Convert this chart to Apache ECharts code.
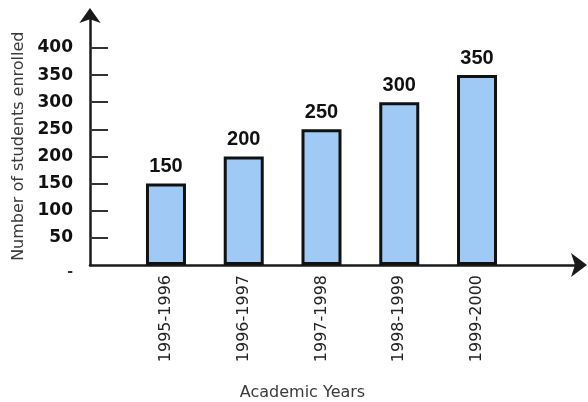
<!DOCTYPE html>
<html>
<head>
<meta charset="utf-8">
<script src="https://cdn.jsdelivr.net/npm/echarts@6/dist/echarts.min.js"></script>
<style>
  html, body { margin: 0; padding: 0; background: #ffffff; }
  #chart { width: 588px; height: 402px; }
</style>
</head>
<body>
<div id="chart"></div>
<script>
const categories = ['1995-1996', '1996-1997', '1997-1998', '1998-1999', '1999-2000'];
const enrolled = [150, 200, 250, 300, 350];
const yLabelValues = [0, 50, 100, 150, 200, 250, 300, 350, 400];
const yTickValues = [50, 100, 150, 200, 250, 300, 350, 400];
const xAxisTitle = 'Academic Years';
const yAxisTitle = 'Number of students enrolled';

const chart = echarts.init(document.getElementById('chart'), null, { renderer: 'canvas' });

const gridTop = 15.4, gridBottom = 137;
const yMax = 460;

chart.setOption({
  animation: false,
  backgroundColor: '#ffffff',
  grid: [
    { left: 90, right: 9, top: gridTop, bottom: gridBottom, containLabel: false, outerBoundsMode: 'none' },
    { left: 127.1, right: 72.1, top: gridTop, bottom: gridBottom, containLabel: false, outerBoundsMode: 'none' }
  ],
  xAxis: [
    {
      gridIndex: 0, type: 'value', min: 0, max: 1,
      axisLine: { show: true, onZero: false, symbol: ['none', 'arrow'], symbolSize: [18, 16],
        symbolOffset: [0, 8], lineStyle: { color: '#1a1a1a', width: 2.5 } },
      axisTick: { show: false }, axisLabel: { show: false }, splitLine: { show: false }
    },
    {
      gridIndex: 1, type: 'category', data: categories,
      axisLine: { show: false }, axisTick: { show: false }, splitLine: { show: false },
      axisLabel: { rotate: 90, margin: 10, color: '#222', fontFamily: 'DejaVu Sans', fontSize: 16 },
      name: xAxisTitle, nameLocation: 'middle', nameGap: 120,
      nameTextStyle: { color: '#3a3a3a', fontFamily: 'DejaVu Sans', fontSize: 16, padding: [0, 38, 0, 0] }
    }
  ],
  yAxis: [
    {
      gridIndex: 0, type: 'value', min: 0, max: yMax,
      axisLine: { show: true, onZero: false, symbol: ['none', 'arrow'], symbolSize: [16, 15],
        symbolOffset: [0, 7.5], lineStyle: { color: '#1a1a1a', width: 2.5 } },
      axisTick: { show: true, inside: true, length: 18, customValues: yTickValues,
        lineStyle: { color: '#333', width: 2 } },
      axisLabel: { show: true, customValues: yLabelValues, margin: 17, color: '#111',
        fontFamily: 'DejaVu Sans', fontWeight: 'bold', fontSize: 17,
        formatter: function (v) { return v === 0 ? '{z|-}' : String(v); },
        rich: { z: { padding: [14, 0, 0, 0], color: '#333', fontFamily: 'DejaVu Sans', fontSize: 14 } } },
      splitLine: { show: false },
      name: yAxisTitle, nameLocation: 'middle', nameGap: 63, nameRotate: 90,
      nameTextStyle: { color: '#3a3a3a', fontFamily: 'DejaVu Sans', fontSize: 16, padding: [0, 12, 0, 0] }
    },
    {
      gridIndex: 1, type: 'value', min: 0, max: yMax, show: false
    }
  ],
  series: [
    {
      type: 'bar', xAxisIndex: 1, yAxisIndex: 1,
      data: enrolled, barWidth: 40,
      itemStyle: { color: '#9fcaf6', borderColor: '#111', borderWidth: 3 },
      label: { show: true, position: 'top', distance: 7, color: '#111',
        fontFamily: 'Liberation Sans', fontWeight: 'bold', fontSize: 20 }
    }
  ]
});
</script>
</body>
</html>
